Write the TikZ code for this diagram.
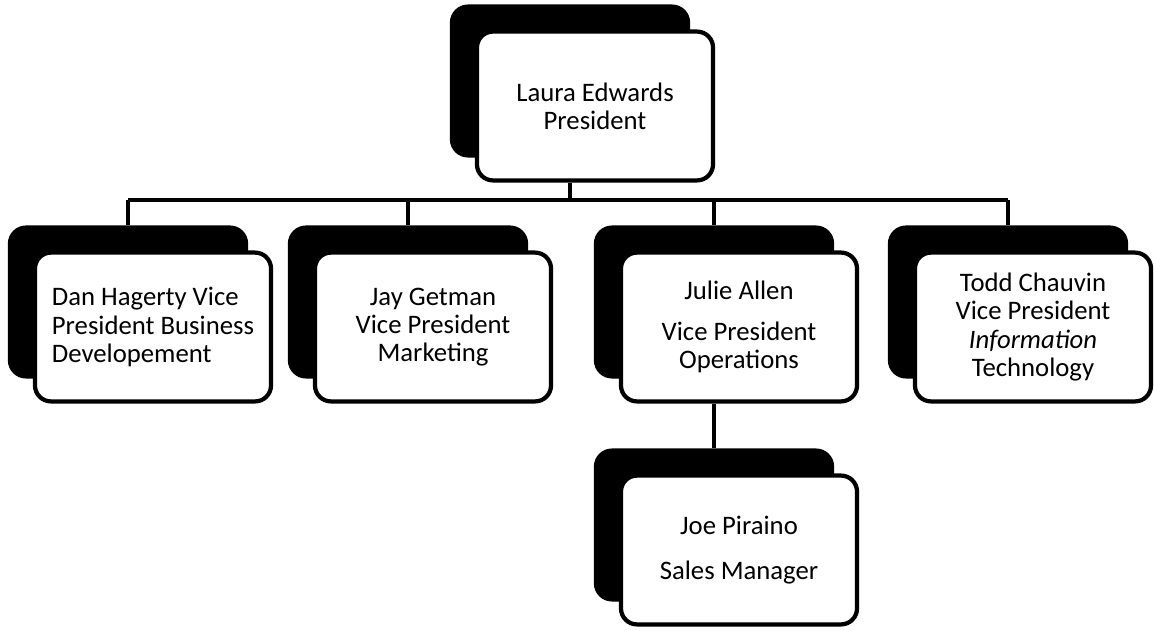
\documentclass[tikz,border=0pt]{standalone}
\usepackage{fontspec}
\setmainfont{Carlito}
\usepackage{tikz}
\usetikzlibrary{calc}

\tikzset{
  backbox/.style={draw=black, fill=black, line width=3pt, rounded corners=0.4cm,
    minimum width=5.9cm, minimum height=3.72cm},
  frontbox/.style={draw=black, fill=white, line width=3pt, rounded corners=0.4cm,
    minimum width=5.9cm, minimum height=3.72cm, align=center, inner sep=0pt,
    font=\fontsize{19}{20}\selectfont},
  link/.style={line width=3.4pt}
}

\begin{document}
\begin{tikzpicture}[x=0.025cm, y=-0.025cm]
    % page
    \useasboundingbox[fill=white] (0,0) rectangle (1154,630);

    % draw back boxes
    \node[backbox] (laurab) at ( 570, 81) {};
    \node[backbox] (danb)   at ( 128,302) {};
    \node[backbox] (jayb)   at ( 408,302) {};
    \node[backbox] (julieb) at ( 714,302) {};
    \node[backbox] (toddb)  at (1008,302) {};
    \node[backbox] (joeb)   at ( 714,525) {};

    % draw front boxes
    \node[frontbox] (laura) at ($(laurab)+(25,25)$) {Laura Edwards\\President};
    \node[frontbox, align=left] (dan) at ($(danb)+(25,25)$) {Dan Hagerty Vice\\President Business\\Developement};
    \node[frontbox] (jay)   at ($(jayb)+(25,25)$)   {Jay Getman\\Vice President\\Marketing};
    \node[frontbox] (julie) at ($(julieb)+(25,25)$) {Julie Allen\\[0.5em]Vice President\\Operations};
    \node[frontbox] (todd)  at ($(toddb)+(25,25)$)  {Todd Chauvin\\Vice President\\\textit{Information}\\Technology};
    \node[frontbox] (joe)   at ($(joeb)+(25,25)$)   {Joe Piraino\\[0.65em]Sales Manager};

    % draw connectors
    \coordinate (bar) at (0,200);
    \draw[link] (laurab |- laura.south) -- (laurab |- bar);
    \draw[link] (danb |- bar) -- (toddb |- bar);
    \foreach \n in {danb,jayb,julieb,toddb}
    \draw[link] (\n |- bar) -- (\n.north);
    \draw[link] (julieb |- julie.south) -- (joeb.north);

  \end{tikzpicture}
\end{document}
